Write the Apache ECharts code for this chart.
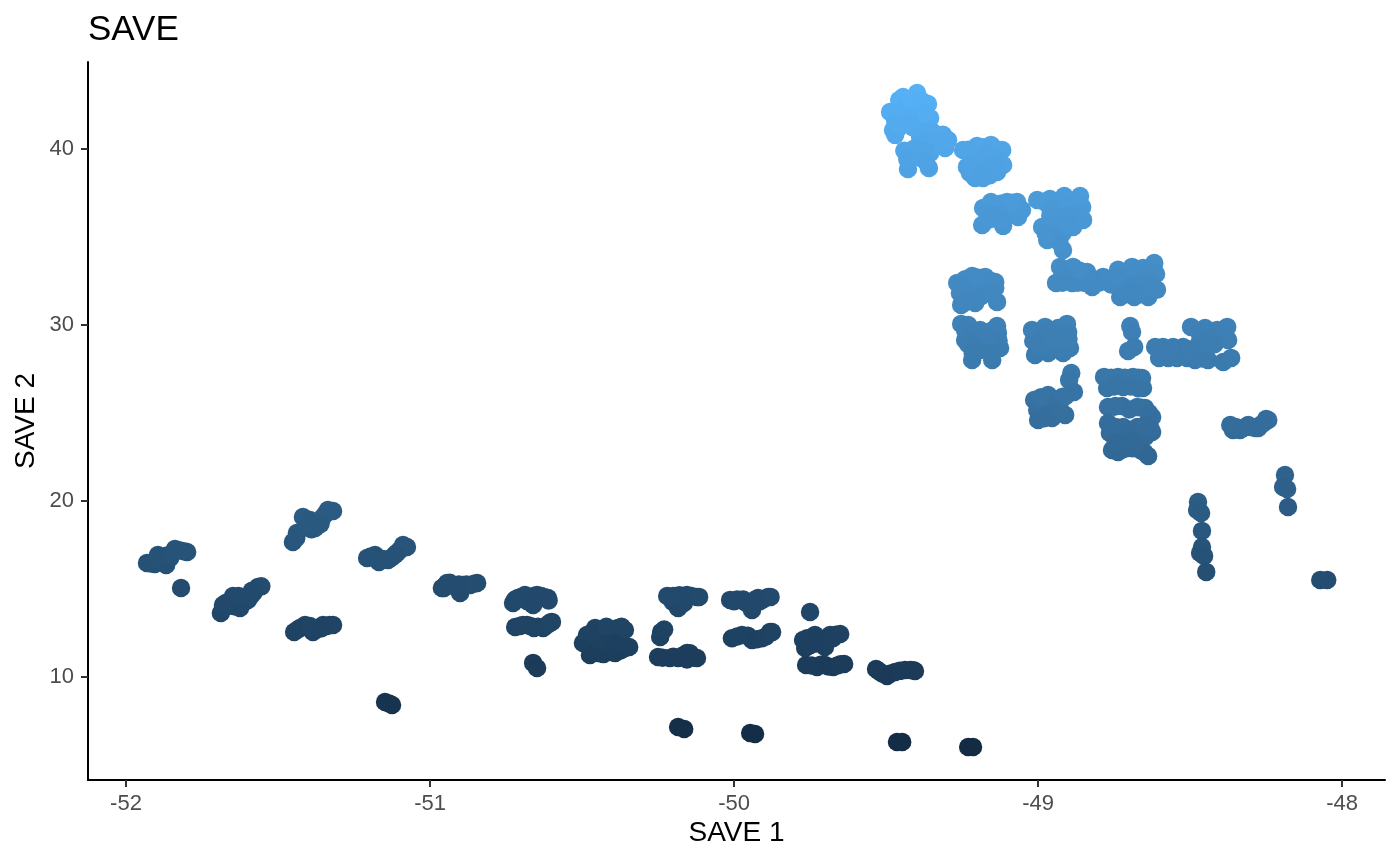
<!DOCTYPE html>
<html><head><meta charset="utf-8">
<script src="https://cdn.jsdelivr.net/npm/echarts@6/dist/echarts.min.js"></script>
<style>html,body{margin:0;padding:0;background:#fff}#c{width:1400px;height:865px}</style>
</head><body><div id="c"></div>
<script>
const xTickValues = [-52,-51,-50,-49,-48];
const yTickValues = [10,20,30,40];
const lowLeft1 = [[-51.931,16.48],[-51.905,16.42],[-51.895,16.93],[-51.868,16.36],[-51.855,16.76],[-51.839,17.27],[-51.799,17.1],[-51.819,15.06],[-51.918,16.45],[-51.88,16.6],[-51.865,16.9],[-51.848,17.0],[-51.825,17.2],[-51.81,17.15],[-51.9,16.7]];
const lowLeft2 = [[-51.688,13.64],[-51.681,14.09],[-51.664,14.26],[-51.648,14.6],[-51.625,13.92],[-51.64,14.0],[-51.599,14.38],[-51.586,14.9],[-51.566,15.11],[-51.555,15.15],[-51.67,14.0],[-51.655,14.3],[-51.635,14.4],[-51.615,14.2],[-51.58,14.8],[-51.59,14.6],[-51.672,14.2],[-51.63,14.6]];
const lowLeft3 = [[-51.451,17.67],[-51.438,18.18],[-51.418,19.09],[-51.395,18.92],[-51.378,18.47],[-51.355,19.03],[-51.336,19.49],[-51.319,19.43],[-51.44,17.9],[-51.405,18.5],[-51.39,18.4],[-51.37,18.8],[-51.345,19.25],[-51.36,18.7],[-51.395,18.7]];
const lowLeft4 = [[-51.447,12.56],[-51.428,12.78],[-51.411,12.95],[-51.385,12.56],[-51.368,12.78],[-51.352,12.95],[-51.319,12.95],[-51.435,12.7],[-51.4,12.8],[-51.375,12.7],[-51.34,12.9],[-51.33,12.95],[-51.395,12.9],[-51.36,12.75]];
const lowLeft5 = [[-51.148,8.58],[-51.135,8.5],[-51.125,8.41]];
const lowLeft6 = [[-51.207,16.76],[-51.181,16.93],[-51.168,16.53],[-51.138,16.65],[-51.109,17.05],[-51.089,17.5],[-51.076,17.39],[-51.195,16.85],[-51.175,16.8],[-51.155,16.7],[-51.125,16.8],[-51.1,17.2],[-51.085,17.4],[-51.115,16.95]];
const mid1 = [[-50.961,15.06],[-50.944,15.34],[-50.901,14.77],[-50.891,15.23],[-50.868,15.23],[-50.845,15.34],[-50.925,15.2],[-50.95,15.2],[-50.935,15.35],[-50.915,15.1],[-50.905,15.25],[-50.88,15.25],[-50.855,15.3],[-50.955,15.05]];
const mid2 = [[-50.727,14.2],[-50.711,14.49],[-50.688,14.66],[-50.661,14.09],[-50.648,14.66],[-50.612,14.49],[-50.68,14.3],[-50.72,14.4],[-50.7,14.55],[-50.67,14.45],[-50.66,14.6],[-50.635,14.6],[-50.625,14.55],[-50.655,14.3],[-50.61,14.35]];
const mid3 = [[-50.72,12.84],[-50.681,12.95],[-50.658,12.78],[-50.628,12.78],[-50.599,13.13],[-50.705,12.9],[-50.695,12.95],[-50.67,12.9],[-50.645,12.85],[-50.615,12.95],[-50.605,13.1]];
const mid4 = [[-50.661,10.8],[-50.648,10.51]];
const mid5 = [[-50.497,11.93],[-50.484,12.39],[-50.474,11.25],[-50.457,12.78],[-50.451,11.93],[-50.447,11.36],[-50.418,12.27],[-50.418,11.7],[-50.391,11.36],[-50.382,12.78],[-50.359,12.67],[-50.359,11.65],[-50.46,12.3],[-50.47,11.9],[-50.44,12.5],[-50.43,11.6],[-50.41,12.4],[-50.4,12.0],[-50.395,12.7],[-50.37,12.85],[-50.375,11.5],[-50.46,11.4],[-50.43,11.3],[-50.4,11.4],[-50.44,12.0],[-50.39,11.9],[-50.345,11.7],[-50.47,12.5],[-50.42,12.85]];
const mid6 = [[-50.24,12.56],[-50.243,12.27],[-50.23,12.7]];
const mid7 = [[-50.25,11.14],[-50.211,11.08],[-50.184,11.08],[-50.155,11.36],[-50.122,11.08],[-50.235,11.1],[-50.2,11.15],[-50.17,11.2],[-50.145,11.35],[-50.13,11.1],[-50.155,11.0]];
const mid8 = [[-50.22,14.6],[-50.201,14.26],[-50.184,13.92],[-50.155,14.66],[-50.122,14.55],[-50.21,14.55],[-50.19,14.35],[-50.175,14.6],[-50.14,14.6],[-50.18,14.65],[-50.165,14.2],[-50.2,14.6],[-50.115,14.55]];
const mid9 = [[-50.184,7.16],[-50.164,7.05]];
const mid10 = [[-49.947,6.82],[-49.931,6.76]];
const mid11 = [[-50.013,14.38],[-49.98,14.38],[-49.941,13.81],[-49.921,14.49],[-49.888,14.55],[-49.95,14.2],[-50.0,14.3],[-49.97,14.4],[-49.96,14.2],[-49.935,14.1],[-49.93,14.4],[-49.905,14.4],[-49.915,14.3],[-49.88,14.55],[-49.99,14.4]];
const mid12 = [[-50.007,12.2],[-49.974,12.39],[-49.941,12.1],[-49.908,12.2],[-49.882,12.56],[-49.99,12.3],[-49.955,12.35],[-49.925,12.15],[-49.895,12.3],[-49.875,12.55]];
const mid13 = [[-49.75,13.69]];
const mid14 = [[-49.773,12.1],[-49.766,11.65],[-49.734,12.39],[-49.701,11.7],[-49.684,12.39],[-49.651,12.44],[-49.76,12.2],[-49.75,12.2],[-49.75,11.8],[-49.72,12.2],[-49.71,12.0],[-49.695,12.0],[-49.665,12.4],[-49.73,11.9],[-49.675,12.2]];
const mid15 = [[-49.763,10.68],[-49.727,10.57],[-49.701,10.68],[-49.674,10.57],[-49.638,10.74],[-49.745,10.65],[-49.715,10.7],[-49.69,10.6],[-49.66,10.65],[-49.65,10.72]];
const mid16 = [[-49.533,10.45],[-49.513,10.2],[-49.497,10.06],[-49.47,10.28],[-49.438,10.4],[-49.405,10.34],[-49.525,10.35],[-49.485,10.2],[-49.455,10.35],[-49.42,10.4],[-49.41,10.38]];
const mid17 = [[-49.464,6.31],[-49.447,6.31]];
const mid18 = [[-49.23,6.02],[-49.214,6.02]];
const right1 = [[-48.072,15.51],[-48.049,15.51]];
const right2 = [[-48.474,19.94],[-48.477,19.49],[-48.464,19.32],[-48.461,18.3],[-48.461,17.39],[-48.467,17.05],[-48.454,16.88],[-48.447,15.97]];
const right3 = [[-48.188,21.48],[-48.194,20.8],[-48.181,20.68],[-48.178,19.66]];
const right4 = [[-48.368,24.32],[-48.359,24.03],[-48.336,24.03],[-48.309,24.32],[-48.276,24.15],[-48.25,24.66],[-48.243,24.6],[-48.35,24.2],[-48.325,24.15],[-48.3,24.2],[-48.285,24.15],[-48.26,24.4],[-48.27,24.3]];
const right5 = [[-48.497,29.89],[-48.451,29.83],[-48.378,29.89],[-48.411,29.72],[-48.375,29.15],[-48.428,29.26],[-48.467,29.15],[-48.615,28.75],[-48.589,28.75],[-48.556,28.75],[-48.523,28.75],[-48.602,28.13],[-48.572,28.13],[-48.543,28.13],[-48.51,28.13],[-48.484,28.01],[-48.441,28.01],[-48.391,27.9],[-48.365,28.13],[-48.6,28.5],[-48.57,28.5],[-48.54,28.5],[-48.51,28.4],[-48.49,28.5],[-48.475,28.7],[-48.45,28.6],[-48.46,28.1],[-48.47,29.6],[-48.44,29.3],[-48.41,29.4],[-48.39,29.5],[-48.45,29.0],[-48.42,28.9],[-48.47,28.9],[-48.5,28.6]];
const right6 = [[-48.704,28.52],[-48.697,29.94],[-48.691,29.6],[-48.684,28.75]];
const block1 = [[-48.783,27.05],[-48.737,27.05],[-48.688,27.05],[-48.658,26.99],[-48.773,26.42],[-48.72,26.48],[-48.655,26.42],[-48.76,27.0],[-48.715,27.0],[-48.67,27.0],[-48.75,26.5],[-48.695,26.5],[-48.67,26.4],[-48.74,26.6]];
const block2 = [[-48.77,25.34],[-48.724,25.4],[-48.674,25.34],[-48.648,25.28],[-48.625,24.77],[-48.75,25.35],[-48.7,25.2],[-48.66,25.3],[-48.635,25.0],[-48.745,25.4]];
const block3 = [[-48.77,24.43],[-48.72,24.2],[-48.674,24.2],[-48.625,23.92],[-48.764,23.86],[-48.697,23.75],[-48.648,23.64],[-48.745,24.2],[-48.7,24.0],[-48.65,24.0],[-48.74,23.85],[-48.72,23.75],[-48.675,23.8],[-48.65,24.3],[-48.63,24.1],[-48.76,24.1]];
const block4 = [[-48.757,22.9],[-48.737,22.78],[-48.707,23.01],[-48.664,22.9],[-48.638,22.56],[-48.745,22.85],[-48.72,22.95],[-48.69,23.0],[-48.65,22.75],[-48.68,23.2],[-48.7,23.4],[-48.745,23.3]];
const block5 = [[-48.891,27.27],[-48.898,26.88],[-48.882,26.19],[-49.013,25.74],[-48.967,26.02],[-49.003,25.17],[-48.944,25.57],[-48.911,24.89],[-49.0,24.6],[-48.954,24.72],[-48.921,25.91],[-48.99,25.5],[-48.97,25.5],[-48.95,25.2],[-48.97,25.0],[-48.93,25.4],[-48.98,24.7],[-48.93,25.1],[-48.91,25.95],[-48.99,25.9]];
const block6 = [[-49.02,29.72],[-48.977,29.89],[-48.934,29.83],[-48.905,30.06],[-48.901,29.6],[-49.016,29.09],[-48.967,29.2],[-48.92,29.1],[-49.01,28.3],[-48.967,28.41],[-48.918,28.41],[-48.895,28.69],[-49.0,29.6],[-48.96,29.7],[-48.94,29.4],[-48.98,29.3],[-48.92,29.5],[-48.91,29.3],[-48.96,28.8],[-48.99,28.7],[-48.93,28.7],[-48.905,28.9],[-49.0,28.9],[-48.95,29.1],[-48.9,29.2]];
const block7 = [[-49.266,32.39],[-49.217,32.78],[-49.174,32.73],[-49.141,32.44],[-49.141,32.1],[-49.257,31.82],[-49.201,31.88],[-49.253,31.14],[-49.207,31.25],[-49.135,31.31],[-49.24,32.6],[-49.235,32.2],[-49.2,32.4],[-49.18,32.3],[-49.155,32.5],[-49.155,32.0],[-49.2,32.7],[-49.23,31.6],[-49.19,31.6],[-49.15,31.7],[-49.25,32.1],[-49.24,31.3]];
const block8 = [[-49.253,30.06],[-49.23,30.0],[-49.191,29.72],[-49.135,29.94],[-49.132,29.55],[-49.24,29.15],[-49.184,29.03],[-49.125,28.69],[-49.217,28.01],[-49.151,28.01],[-49.191,28.58],[-49.15,29.0],[-49.24,29.7],[-49.21,29.6],[-49.19,29.3],[-49.155,29.5],[-49.15,29.7],[-49.22,29.3],[-49.2,29.0],[-49.17,28.9],[-49.13,29.1],[-49.23,28.9],[-49.205,28.6],[-49.14,28.8],[-49.165,29.3],[-49.215,28.4],[-49.155,28.4]];
const band1 = [[-48.928,33.3],[-48.941,32.39],[-48.885,33.3],[-48.888,32.39],[-48.839,33.01],[-48.822,32.16],[-48.86,32.7],[-48.786,32.73],[-48.76,32.3],[-48.737,33.13],[-48.691,33.3],[-48.618,33.52],[-48.655,33.24],[-48.612,32.9],[-48.73,31.59],[-48.684,31.59],[-48.638,31.59],[-48.609,32.0],[-48.655,32.16],[-48.724,32.27],[-48.69,32.6],[-48.92,32.9],[-48.9,32.6],[-48.87,32.4],[-48.85,32.4],[-48.82,32.6],[-48.8,32.4],[-48.77,32.6],[-48.75,32.5],[-48.72,32.6],[-48.7,32.9],[-48.67,33.0],[-48.64,32.9],[-48.63,32.4],[-48.67,32.4],[-48.7,32.2],[-48.71,31.9],[-48.665,31.8],[-48.63,32.1],[-48.74,32.7],[-48.92,32.4],[-48.865,33.1]];
const top1 = [[-49.487,42.1],[-49.457,42.78],[-49.444,42.95],[-49.398,43.18],[-49.362,42.55],[-49.355,41.76],[-49.421,42.39],[-49.477,41.08],[-49.47,40.8],[-49.398,42.05],[-49.444,41.82],[-49.428,38.86],[-49.359,38.92],[-49.421,39.77],[-49.355,39.77],[-49.388,40.68],[-49.313,40.8],[-49.306,40.06],[-49.296,40.51],[-49.398,39.94],[-49.365,41.25],[-49.47,41.6],[-49.45,42.2],[-49.42,42.8],[-49.38,42.7],[-49.43,41.5],[-49.41,41.2],[-49.39,41.6],[-49.37,42.0],[-49.45,41.3],[-49.38,40.9],[-49.35,41.0],[-49.33,40.8],[-49.36,40.4],[-49.39,40.3],[-49.34,40.3],[-49.33,40.4],[-49.37,39.9],[-49.41,40.0],[-49.44,39.9],[-49.43,39.4],[-49.39,39.5],[-49.37,39.3],[-49.46,41.4]];
const top2 = [[-49.247,39.94],[-49.201,40.17],[-49.155,40.23],[-49.118,39.94],[-49.234,38.98],[-49.207,38.35],[-49.181,38.35],[-49.115,39.09],[-49.135,38.69],[-49.191,39.38],[-49.148,39.55],[-49.224,38.64],[-49.23,39.95],[-49.18,40.1],[-49.14,40.0],[-49.17,39.7],[-49.13,39.4],[-49.17,38.9],[-49.2,38.8],[-49.15,38.8],[-49.22,39.1],[-49.125,39.2],[-49.19,38.6],[-49.16,38.5],[-49.14,39.0]];
const top3 = [[-49.181,36.65],[-49.155,36.99],[-49.102,36.99],[-49.069,36.99],[-49.053,36.53],[-49.184,35.68],[-49.115,35.63],[-49.066,36.14],[-49.125,36.36],[-49.17,36.4],[-49.13,36.6],[-49.12,36.9],[-49.085,36.7],[-49.08,36.3],[-49.15,36.2],[-49.11,36.3],[-49.16,36.0],[-49.06,36.6],[-49.085,36.95],[-49.12,36.0]];
const top4 = [[-49.003,37.1],[-48.961,37.16],[-48.914,37.33],[-48.862,37.33],[-48.855,36.7],[-48.852,35.97],[-48.987,35.57],[-48.97,34.83],[-48.918,34.26],[-48.928,36.36],[-48.885,35.57],[-48.938,35.23],[-48.96,35.2],[-48.98,37.0],[-48.94,37.0],[-48.9,36.9],[-48.88,36.9],[-48.87,36.4],[-48.96,36.6],[-48.93,36.0],[-48.9,36.2],[-48.88,36.0],[-48.96,36.2],[-48.95,35.6],[-48.91,35.6],[-48.945,35.0],[-48.92,35.2],[-48.93,34.7],[-48.975,35.2],[-48.9,35.7]];
const savePoints = [].concat(lowLeft1,lowLeft2,lowLeft3,lowLeft4,lowLeft5,lowLeft6,mid1,mid2,mid3,mid4,mid5,mid6,mid7,mid8,mid9,mid10,mid11,mid12,mid13,mid14,mid15,mid16,mid17,mid18,right1,right2,right3,right4,right5,right6,block1,block2,block3,block4,block5,block6,block7,block8,band1,top1,top2,top3,top4);

const chart = echarts.init(document.getElementById('c'), null, {renderer:'canvas'});
const font = '"Liberation Sans", Arial, sans-serif';
const axisCommon = {
  type:'value', scale:true, splitLine:{show:false}, nameLocation:'center', nameMoveOverlap:false,
  nameTextStyle:{color:'#000',fontFamily:font,fontSize:28},
  axisLine:{show:true,onZero:false,lineStyle:{color:'#000',width:2}},
  axisTick:{show:true,length:7,lineStyle:{color:'#333',width:2}},
  axisLabel:{color:'#4D4D4D',fontFamily:font,fontSize:22,margin:13}
};
chart.setOption({
  animation:false,
  backgroundColor:'#fff',
  title:{text:'SAVE',left:88,top:13,padding:0,textStyle:{color:'#000',fontFamily:font,fontSize:35,fontWeight:'normal'}},
  grid:{left:88,top:62,right:15,bottom:85,containLabel:false},
  xAxis:Object.assign({},axisCommon,{min:-52.125,max:-47.859,name:'SAVE 1',nameGap:39,
    axisTick:Object.assign({},axisCommon.axisTick,{customValues:xTickValues}),
    axisLabel:Object.assign({},axisCommon.axisLabel,{customValues:xTickValues,formatter:v=>String(v)})}),
  yAxis:Object.assign({},axisCommon,{min:4.148,max:44.94,name:'SAVE 2',nameGap:48,
    axisTick:Object.assign({},axisCommon.axisTick,{customValues:yTickValues}),
    axisLabel:Object.assign({},axisCommon.axisLabel,{customValues:yTickValues,margin:14,formatter:v=>String(v)})}),
  visualMap:{show:false,type:'continuous',dimension:1,min:6,max:43.2,seriesIndex:0,inRange:{color:['#132B43','#56B1F7']}},
  series:[{type:'scatter',data:savePoints,symbol:'circle',symbolSize:18.5,clip:false,itemStyle:{opacity:1},silent:true}]
});
</script></body></html>
